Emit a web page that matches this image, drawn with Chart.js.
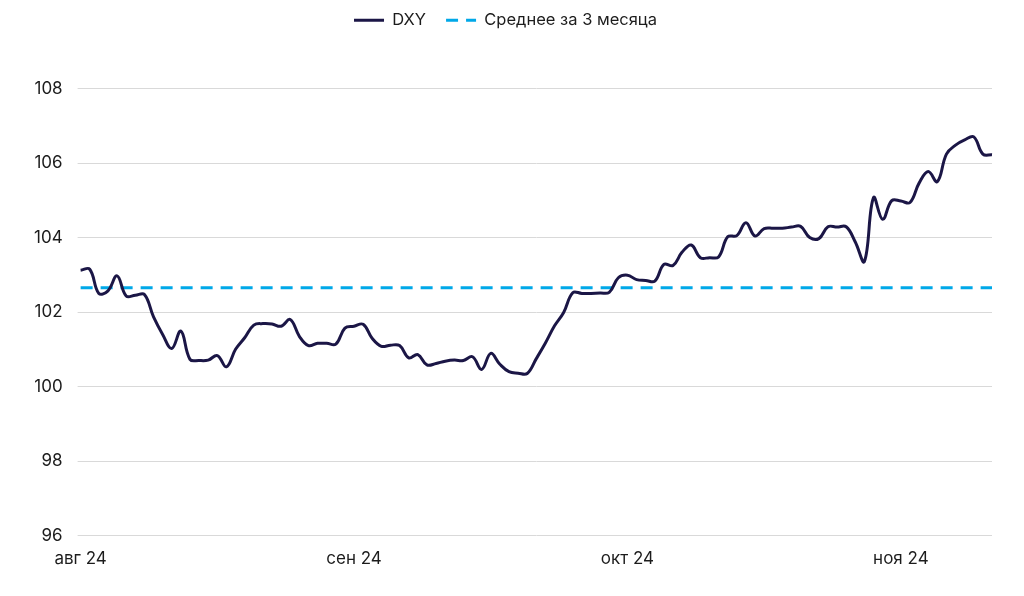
<!DOCTYPE html>
<html lang="ru">
<head>
<meta charset="utf-8">
<title>DXY</title>
<script src="https://cdn.jsdelivr.net/npm/chart.js@4.4.1/dist/chart.umd.min.js"></script>
<style>
    html, body { margin: 0; padding: 0; background: #fff; }
    #wrap { width: 1024px; height: 596px; }
</style>
</head>
<body>
<div id="wrap"><canvas id="grafico"></canvas></div>
<script>
// данные
const dxy = [
    103.12, 103.15, 102.50, 102.57, 102.97, 102.43, 102.45, 102.47, 101.87, 101.40,
    101.02, 101.49, 100.73, 100.70, 100.71, 100.83, 100.53, 101.00, 101.31, 101.65,
    101.69, 101.68, 101.62, 101.80, 101.35, 101.10, 101.16, 101.16, 101.14, 101.57,
    101.62, 101.67, 101.29, 101.08, 101.11, 101.10, 100.77, 100.86, 100.58, 100.62,
    100.68, 100.71, 100.70, 100.80, 100.46, 100.89, 100.60, 100.40, 100.36, 100.35,
    100.75, 101.17, 101.63, 101.99, 102.52, 102.50, 102.50, 102.51, 102.53, 102.92,
    102.99, 102.87, 102.85, 102.83, 103.28, 103.25, 103.61, 103.80, 103.46, 103.46,
    103.48, 104.02, 104.05, 104.40, 104.04, 104.24, 104.25, 104.25, 104.28, 104.30,
    104.00, 103.97, 104.29, 104.28, 104.29, 103.88, 103.36, 105.07, 104.49, 104.99,
    104.98, 104.94, 105.46, 105.77, 105.50, 106.24, 106.48, 106.62, 106.70, 106.24,
    106.22
];
const avg3m = 102.65;
const monthTicks = ["авг 24", "сен 24", "окт 24", "ноя 24"];
const tickEvery = 30;
const yTicks = [96, 98, 100, 102, 104, 106, 108];

const categories = dxy.map((v, i) => i);
const avgLine = dxy.map(() => avg3m);

// отступ между легендой и графиком + легенда чуть выше
const legendGap = {
    id: "legendGap",
    beforeInit(chart) {
        const fitOrig = chart.legend.fit;
        chart.legend.fit = function () {
            fitOrig.bind(chart.legend)();
            this.height += 42;
        };
    },
    afterLayout(chart) {
        chart.legend.top -= 8;
    }
};

Chart.defaults.font.family = "Inter, 'Noto Sans', sans-serif";
Chart.defaults.font.size = 17;
Chart.defaults.color = "#1c1c1c";

new Chart(document.getElementById("grafico"), {
    type: "line",
    data: {
        labels: categories,
        datasets: [
            {
                label: "DXY",
                data: dxy,
                borderColor: "#1b1646",
                backgroundColor: "#1b1646",
                borderWidth: 3,
                pointRadius: 0,
                tension: 0.4
            },
            {
                label: "Среднее за 3 месяца",
                data: avgLine,
                borderColor: "#00a8e8",
                backgroundColor: "#00a8e8",
                borderWidth: 3,
                borderDash: [12, 8],
                pointRadius: 0,
                tension: 0
            }
        ]
    },
    options: {
        responsive: true,
        maintainAspectRatio: false,
        animation: false,
        layout: {
            padding: { top: 0, right: 32, bottom: 14, left: 19 }
        },
        plugins: {
            legend: {
                display: true,
                position: "top",
                labels: {
                    usePointStyle: true,
                    pointStyle: "line",
                    pointStyleWidth: 30,
                    boxHeight: 16,
                    padding: 20,
                    color: "#1c1c1c",
                    font: { size: 16.5 },
                    // штрих берём из самого набора данных
                    generateLabels: function (chart) {
                        let items = Chart.defaults.plugins.legend.labels.generateLabels(chart);
                        items.forEach(item => {
                            let ds = chart.data.datasets[item.datasetIndex];
                            item.lineDash = ds.borderDash || [];
                            item.lineWidth = 3;
                            item.strokeStyle = ds.borderColor;
                        });
                        return items;
                    }
                }
            },
            tooltip: { enabled: false }
        },
        scales: {
            x: {
                type: "category",
                offset: false,
                grid: { display: false, drawTicks: false },
                border: { display: false },
                ticks: {
                    autoSkip: false,
                    maxRotation: 0,
                    padding: 13,
                    callback: function (value, index) {
                        return index % tickEvery === 0 ? monthTicks[index / tickEvery] : "";
                    }
                }
            },
            y: {
                min: yTicks[0],
                max: yTicks[yTicks.length - 1],
                grid: { color: "#d9d9d9", lineWidth: 1, drawTicks: true, tickLength: 3 },
                border: { display: false },
                ticks: {
                    stepSize: 2,
                    padding: 15,
                    color: "#1c1c1c"
                }
            }
        }
    },
    plugins: [legendGap]
});
</script>
</body>
</html>
